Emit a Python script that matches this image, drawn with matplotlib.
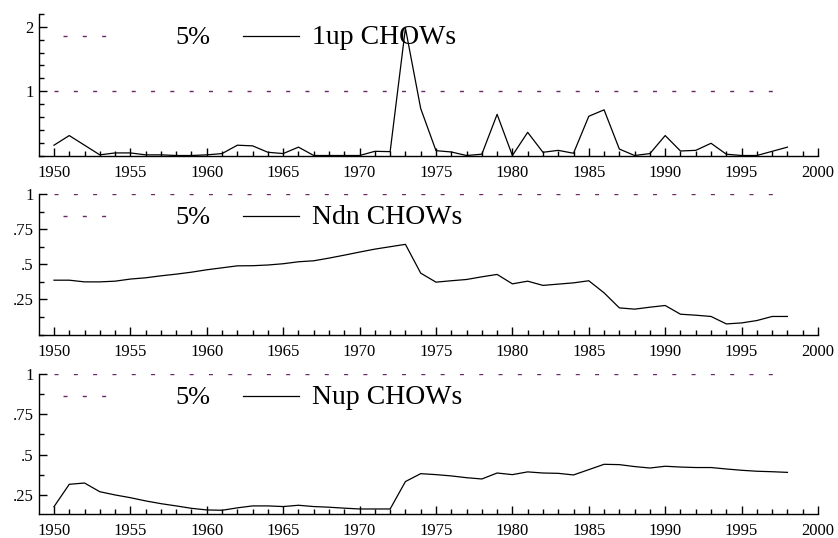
import numpy as np
import matplotlib
matplotlib.use("Agg")
import matplotlib.pyplot as plt
from matplotlib.ticker import MultipleLocator, FixedLocator, FuncFormatter
from matplotlib.lines import Line2D

plt.rcParams['font.family'] = ['Liberation Serif', 'DejaVu Serif']

# data (recursive Chow tests, scaled by 5% critical value)
years = np.arange(1950, 1999)

up1_chow = [0.16, 0.31, 0.16, 0.01, 0.04, 0.04, 0.01, 0.01, 0.0, 0.0,
            0.01, 0.03, 0.16, 0.15, 0.05, 0.03, 0.13, 0.0, 0.0, 0.0,
            0.0, 0.065, 0.06, 1.98, 0.73, 0.075, 0.055, 0.0, 0.02, 0.64,
            0.0, 0.36, 0.05, 0.08, 0.035, 0.61, 0.71, 0.10, 0.0, 0.03,
            0.31, 0.07, 0.08, 0.19, 0.02, 0.0, 0.0, 0.065, 0.13]

ndn_chow = [0.387, 0.387, 0.375, 0.375, 0.38, 0.395, 0.404, 0.418, 0.43, 0.444,
            0.461, 0.475, 0.489, 0.49, 0.495, 0.504, 0.518, 0.525, 0.544, 0.565,
            0.587, 0.608, 0.625, 0.642, 0.437, 0.373, 0.383, 0.392, 0.411, 0.428,
            0.361, 0.38, 0.35, 0.359, 0.368, 0.383, 0.297, 0.19, 0.181, 0.195,
            0.207, 0.145, 0.138, 0.129, 0.076, 0.083, 0.10, 0.129, 0.129]

nup_chow = [0.177, 0.316, 0.324, 0.27, 0.25, 0.233, 0.213, 0.196, 0.182, 0.167,
            0.157, 0.155, 0.17, 0.182, 0.182, 0.178, 0.186, 0.178, 0.174, 0.168,
            0.163, 0.163, 0.163, 0.333, 0.382, 0.376, 0.368, 0.357, 0.349, 0.386,
            0.376, 0.393, 0.386, 0.384, 0.374, 0.407, 0.44, 0.438, 0.426, 0.417,
            0.428, 0.423, 0.42, 0.42, 0.411, 0.403, 0.397, 0.394, 0.39]

crit_5pct = 1.0

labels = ['1up CHOWs', 'Ndn CHOWs', 'Nup CHOWs']
series = [up1_chow, ndn_chow, nup_chow]

W, H = 838, 538
fig = plt.figure(figsize=(W / 100, H / 100), dpi=100)

# panel boxes in pixels: (top, bottom) of the axes, and y limits
boxes = [(14, 155.5, (0, 2.2)), (194, 334.6, (0, 1.0)), (374, 514.3, (0.13, 1.0))]
x0, x1 = 39, 818
purple = '#6a2868'


def fmt(v, pos):
    s = f'{v:g}'
    return s[1:] if s.startswith('0.') else s


for i, (top, bot, ylim) in enumerate(boxes):
    ax = fig.add_axes([x0 / W, 1 - bot / H, (x1 - x0) / W, (bot - top) / H])
    ax.plot(years, np.full(len(years), crit_5pct), color=purple, lw=1.0,
            dashes=(2.9, 11))
    ax.plot(years, series[i], color='black', lw=0.9)
    ax.set_xlim(1949.02, 2000)
    ax.set_ylim(*ylim)
    for s in ('top', 'right'):
        ax.spines[s].set_visible(False)
    for s in ('left', 'bottom'):
        ax.spines[s].set_linewidth(1.0)
    ax.xaxis.set_major_locator(MultipleLocator(5))
    ax.xaxis.set_minor_locator(MultipleLocator(1))
    if i == 0:
        ax.yaxis.set_major_locator(FixedLocator([1, 2]))
        ax.yaxis.set_minor_locator(MultipleLocator(0.2))
    else:
        ax.yaxis.set_major_locator(FixedLocator([0.25, 0.5, 0.75, 1.0]))
        ax.yaxis.set_minor_locator(MultipleLocator(0.125))
    ax.yaxis.set_major_formatter(FuncFormatter(fmt))
    ax.tick_params(which='major', direction='in', length=6, width=1,
                   labelsize=12, pad=4)
    ax.tick_params(axis='x', which='major', pad=6.5)
    ax.tick_params(which='minor', direction='in', length=3.5, width=1)

    # legend row
    ly = top + 22
    fy = lambda y: 1 - y / H
    fig.add_artist(Line2D([63 / W, 107 / W], [fy(ly), fy(ly)], color=purple,
                          lw=1.0, dashes=(2.9, 11)))
    fig.text(175 / W, fy(ly + 8.5), '5%', fontsize=19, va='baseline')
    fig.add_artist(Line2D([243 / W, 299 / W], [fy(ly), fy(ly)], color='black',
                          lw=0.9))
    fig.text(312 / W, fy(ly + 8.5), labels[i], fontsize=20, va='baseline')

fig.savefig('out.png', dpi=100)
